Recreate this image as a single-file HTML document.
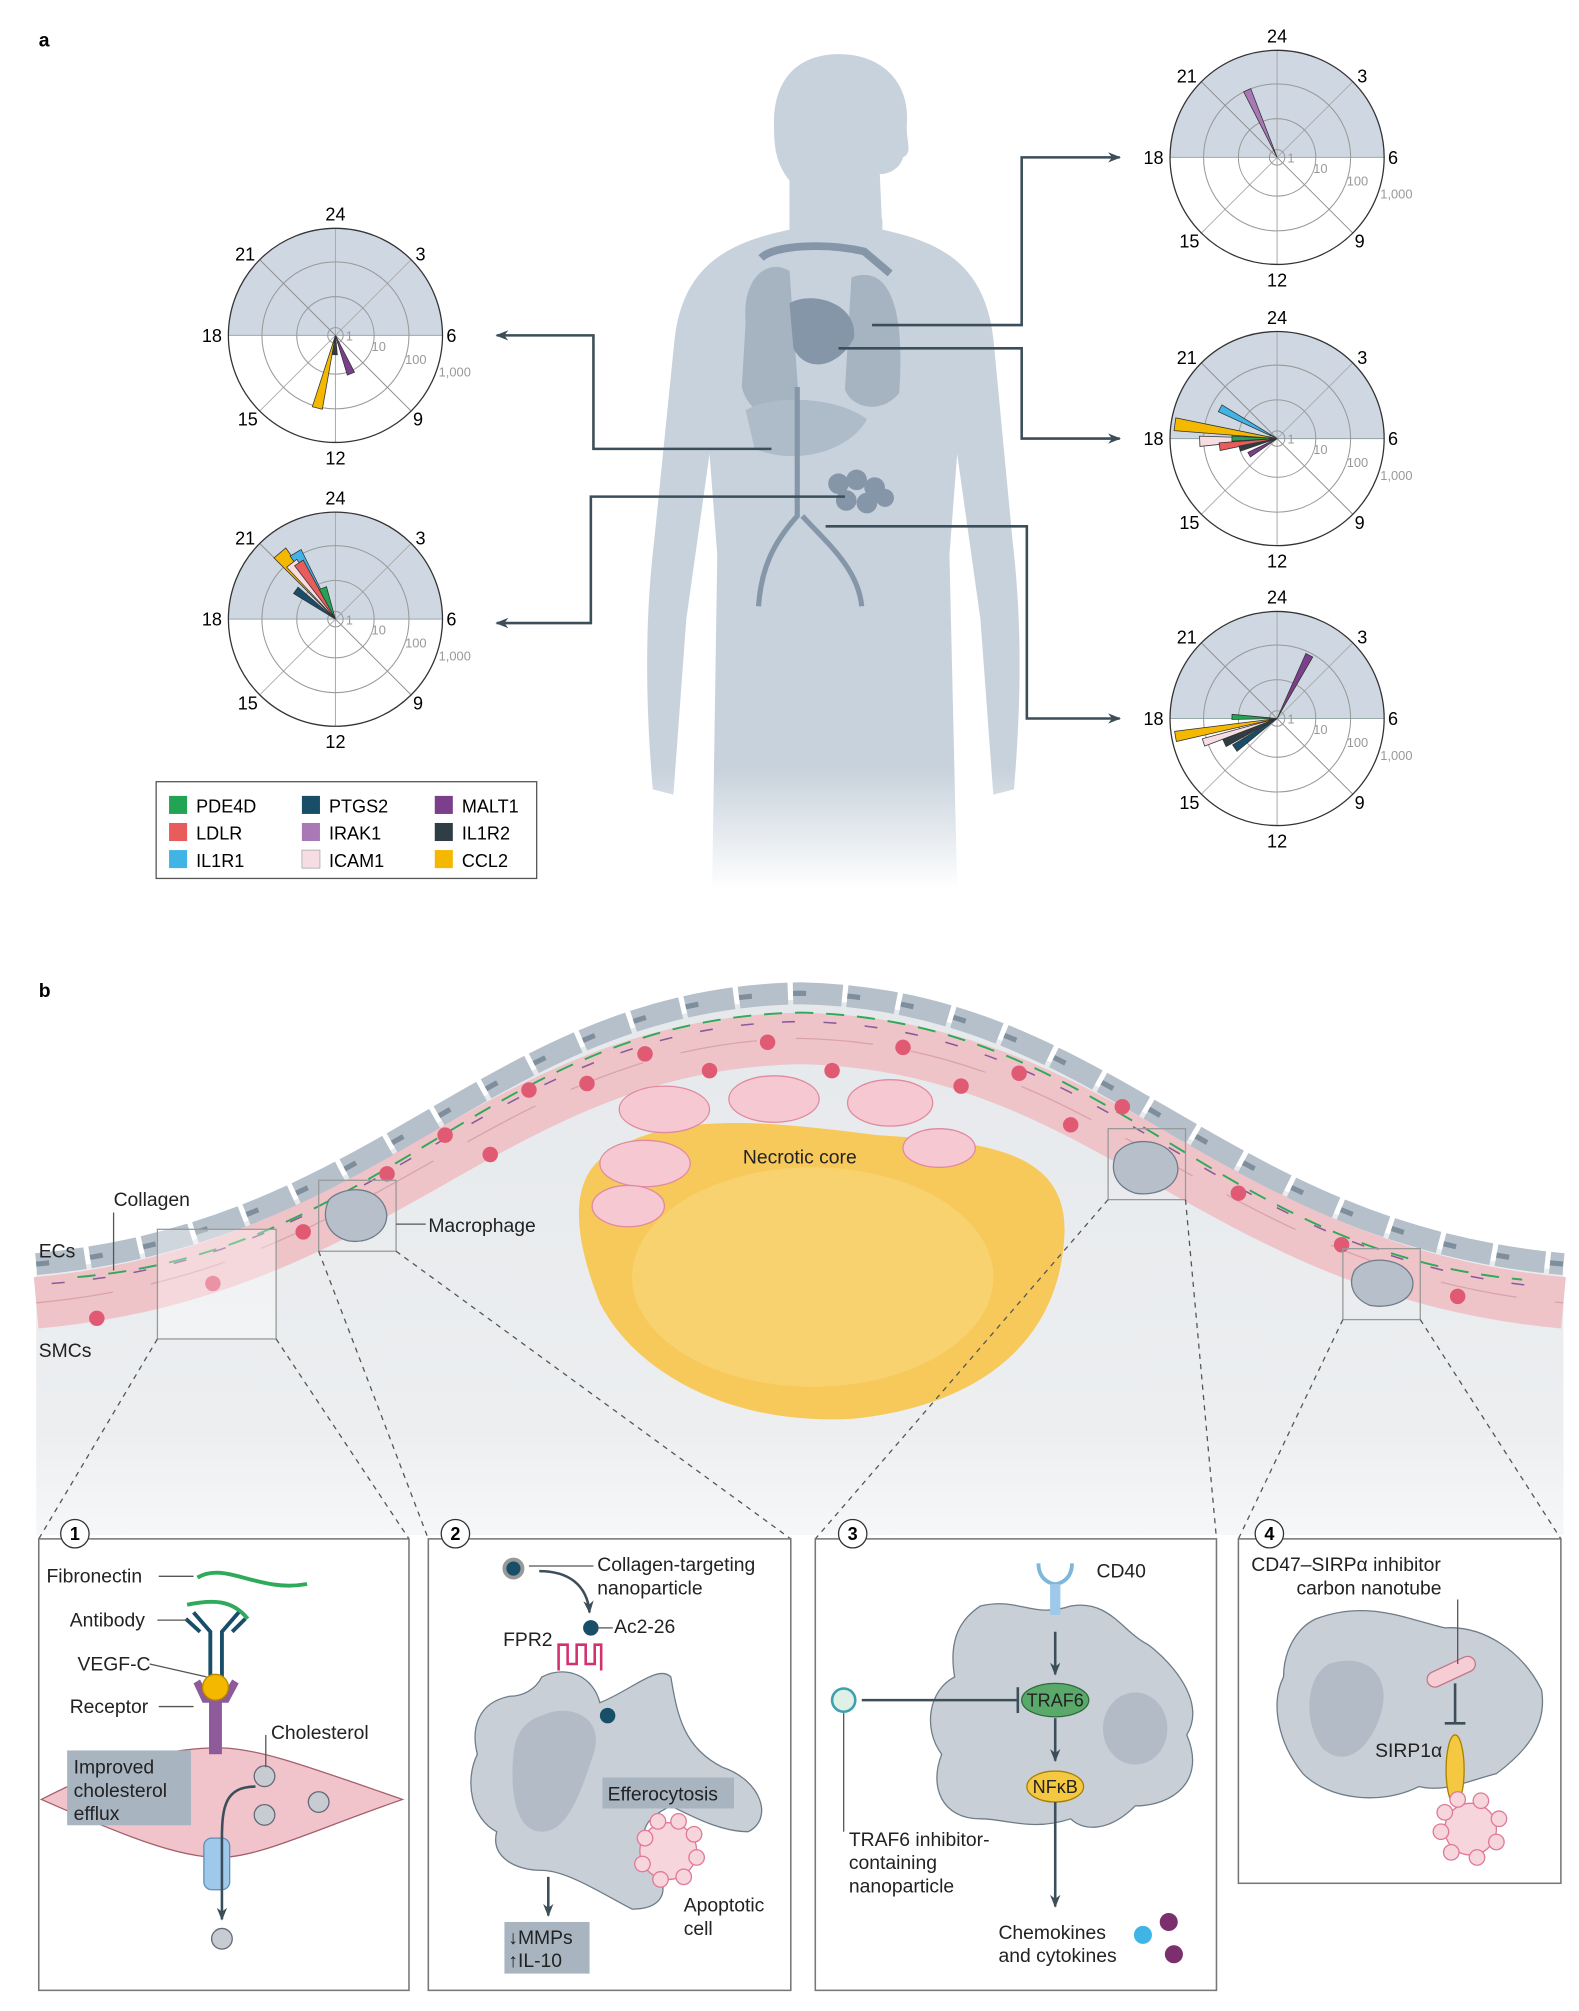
<!DOCTYPE html>
<html><head><meta charset="utf-8"><style>
html,body{margin:0;padding:0;background:#fff}
svg{display:block}
text{font-family:"Liberation Sans",sans-serif}
</style></head><body>
<svg width="1579" height="2011" viewBox="0 0 1224 1559" xmlns="http://www.w3.org/2000/svg">
<defs>
<linearGradient id="fade" x1="0" y1="0" x2="0" y2="1">
<stop offset="0" stop-color="#c8d2dc"/><stop offset="0.82" stop-color="#c8d2dc"/><stop offset="1" stop-color="#ffffff"/>
</linearGradient>
<linearGradient id="bgb" x1="0" y1="0" x2="0" y2="1">
<stop offset="0" stop-color="#e6e9ec"/><stop offset="0.8" stop-color="#eceef0"/><stop offset="1" stop-color="#f6f7f8"/>
</linearGradient>
<marker id="ah" markerWidth="10" markerHeight="8" refX="9" refY="4" orient="auto" markerUnits="userSpaceOnUse"><path d="M0,0 L10,4 L0,8 L3,4Z" fill="#3c4e5a"/></marker>
<g id="polar">
<path d="M-83,0 A83,83 0 0 1 83,0 Z" fill="#cfd8e2"/>
<line x1="-83" y1="0" x2="83" y2="0" stroke="#9aa" stroke-width="0.8"/>
<line x1="0" y1="-83" x2="0" y2="83" stroke="#aaa" stroke-width="0.8"/>
<line x1="-59" y1="-59" x2="59" y2="59" stroke="#888" stroke-width="0.7"/>
<line x1="-59" y1="59" x2="59" y2="-59" stroke="#aaa" stroke-width="0.7"/>
<circle r="57" fill="none" stroke="#999" stroke-width="0.8"/>
<circle r="30" fill="none" stroke="#999" stroke-width="0.8"/>
<circle r="6" fill="none" stroke="#999" stroke-width="0.8"/>
<circle r="83" fill="none" stroke="#333" stroke-width="1"/>
<text x="0" y="-89" font-size="14" text-anchor="middle">24</text>
<text x="0" y="100" font-size="14" text-anchor="middle">12</text>
<text x="-88" y="5" font-size="14" text-anchor="end">18</text>
<text x="86" y="5" font-size="14">6</text>
<text x="-70" y="-58" font-size="14" text-anchor="middle">21</text>
<text x="66" y="-58" font-size="14" text-anchor="middle">3</text>
<text x="-68" y="70" font-size="14" text-anchor="middle">15</text>
<text x="64" y="70" font-size="14" text-anchor="middle">9</text>
<text x="8" y="4" font-size="10" fill="#999">1</text>
<text x="28" y="12" font-size="10" fill="#999">10</text>
<text x="54" y="22" font-size="10" fill="#999">100</text>
<text x="80" y="32" font-size="10" fill="#999">1,000</text>
</g>
</defs>
<rect width="1224" height="1559" fill="#fff"/>
<text x="30" y="36" font-size="15" font-weight="bold">a</text>
<path fill="#c8d2dc" d="M600,95 C600,60 620,42 650,42 C685,42 705,65 703,95 C702,110 708,118 700,122 C698,130 690,135 682,135 L684,180 L612,180 L612,140 C600,125 600,110 600,95Z"/>
<path fill="url(#fade)" d="M612,170 L612,178 C565,188 530,205 523,262 L507,420 C500,480 500,540 506,612 L522,616 L532,480 L550,352 L556,430 L552,690 L742,690 L736,430 L742,352 L760,480 L770,616 L786,612 C792,540 792,480 785,420 L770,262 C763,205 730,188 684,178 L684,170 Z"/>
<g>
<path d="M578,250 C575,215 595,200 612,210 L620,320 C600,330 580,320 575,300Z" fill="#a6b4c2"/>
<path d="M660,215 C688,205 702,235 697,305 C682,322 660,316 655,302Z" fill="#a6b4c2"/>
<path d="M612,235 C630,225 665,235 662,262 C650,285 625,290 615,270Z" fill="#8596a9"/>
<path d="M578,318 C600,305 650,308 672,325 C660,348 620,362 585,348Z" fill="#aebbc8"/>
<path d="M590,200 C600,190 640,188 670,195 L690,212" fill="none" stroke="#8596a9" stroke-width="6"/>
<path d="M618,300 L618,400 C600,420 590,440 588,470" fill="none" stroke="#8596a9" stroke-width="4"/>
<path d="M622,400 C640,420 665,440 668,470" fill="none" stroke="#8596a9" stroke-width="4"/>
<g fill="#8596a9"><circle cx="650" cy="375" r="8"/><circle cx="664" cy="372" r="8"/><circle cx="678" cy="378" r="8"/><circle cx="656" cy="388" r="8"/><circle cx="672" cy="390" r="8"/><circle cx="686" cy="386" r="7"/></g>
</g>
<g fill="none" stroke="#3c4e5a" stroke-width="2" marker-end="url(#ah)">
<polyline points="598,348 460,348 460,260 385,260"/>
<polyline points="655,385 458,385 458,483 385,483"/>
<polyline points="676,252 792,252 792,122 868,122"/>
<polyline points="650,270 792,270 792,340 868,340"/>
<polyline points="640,408 796,408 796,557 868,557"/>
</g>
<g transform="translate(260,260)"><use href="#polar"/>
<g stroke="#333" stroke-width="0.6">
<polygon points="0,0 -4,-58 4,-58" fill="#f5b800" transform="rotate(194)"/>
<polygon points="0,0 -3,-32 3,-32" fill="#7b3f8c" transform="rotate(158)"/>
<polygon points="0,0 -2,-15 2,-15" fill="#2f3d45" transform="rotate(182)"/>
</g></g>
<g transform="translate(260,480)"><use href="#polar"/>
<g stroke="#333" stroke-width="0.6">
<polygon points="0,0 -6,-67 6,-67" fill="#f5b800" transform="rotate(-40)"/>
<polygon points="0,0 -5,-60 5,-60" fill="#3fb4e5" transform="rotate(-31)"/>
<polygon points="0,0 -5,-55 5,-55" fill="#f5dde3" transform="rotate(-38)"/>
<polygon points="0,0 -4,-52 4,-52" fill="#e85c5c" transform="rotate(-33)"/>
<polygon points="0,0 -3,-38 3,-38" fill="#184e68" transform="rotate(-54)"/>
<polygon points="0,0 -3,-26 3,-26" fill="#23a455" transform="rotate(-22)"/>
</g></g>
<g transform="translate(990,122)"><use href="#polar"/>
<g stroke="#333" stroke-width="0.6">
<polygon points="0,0 -3,-57 3,-57" fill="#a979b5" transform="rotate(-24)"/>
</g></g>
<g transform="translate(990,340)"><use href="#polar"/>
<g stroke="#333" stroke-width="0.6">
<polygon points="0,0 -5,-80 5,-80" fill="#f5b800" transform="rotate(-82)"/>
<polygon points="0,0 -4,-60 4,-60" fill="#f5dde3" transform="rotate(-92)"/>
<polygon points="0,0 -3,-50 3,-50" fill="#3fb4e5" transform="rotate(-62)"/>
<polygon points="0,0 -3,-45 3,-45" fill="#e85c5c" transform="rotate(-98)"/>
<polygon points="0,0 -2,-35 2,-35" fill="#23a455" transform="rotate(-90)"/>
<polygon points="0,0 -2,-30 2,-30" fill="#2f3d45" transform="rotate(-105)"/>
<polygon points="0,0 -2,-25 2,-25" fill="#7b3f8c" transform="rotate(-120)"/>
</g></g>
<g transform="translate(990,557)"><use href="#polar"/>
<g stroke="#333" stroke-width="0.6">
<polygon points="0,0 -3,-55 3,-55" fill="#7b3f8c" transform="rotate(27)"/>
<polygon points="0,0 -4,-80 4,-80" fill="#f5b800" transform="rotate(-100)"/>
<polygon points="0,0 -3,-60 3,-60" fill="#f5dde3" transform="rotate(-108)"/>
<polygon points="0,0 -2,-35 2,-35" fill="#23a455" transform="rotate(-88)"/>
<polygon points="0,0 -3,-45 3,-45" fill="#2f3d45" transform="rotate(-115)"/>
<polygon points="0,0 -3,-40 3,-40" fill="#184e68" transform="rotate(-125)"/>
</g></g>
<rect x="121" y="606" width="295" height="75" fill="#fff" stroke="#555" stroke-width="1"/>
<g font-size="14">
<rect x="131" y="617" width="14" height="14" fill="#23a455"/><text x="152" y="630">PDE4D</text>
<rect x="131" y="638" width="14" height="14" fill="#e85c5c"/><text x="152" y="651">LDLR</text>
<rect x="131" y="659" width="14" height="14" fill="#3fb4e5"/><text x="152" y="672">IL1R1</text>
<rect x="234" y="617" width="14" height="14" fill="#184e68"/><text x="255" y="630">PTGS2</text>
<rect x="234" y="638" width="14" height="14" fill="#a979b5"/><text x="255" y="651">IRAK1</text>
<rect x="234" y="659" width="14" height="14" fill="#f5dde3" stroke="#999" stroke-width="0.5"/><text x="255" y="672">ICAM1</text>
<rect x="337" y="617" width="14" height="14" fill="#7b3f8c"/><text x="358" y="630">MALT1</text>
<rect x="337" y="638" width="14" height="14" fill="#2f3d45"/><text x="358" y="651">IL1R2</text>
<rect x="337" y="659" width="14" height="14" fill="#f5b800"/><text x="358" y="672">CCL2</text>
</g>

<text x="30" y="773" font-size="15" font-weight="bold">b</text>
<path d="M28,985 C300,960 380,780 620,775 C860,780 940,960 1212,985 L1212,1190 L28,1190 Z" fill="url(#bgb)"/>
<path d="M28,1010 C300,985 380,810 620,805 C860,810 940,985 1212,1010" fill="none" stroke="#efc4c9" stroke-width="40"/>
<path d="M28,1010 C300,985 380,810 620,805 C860,810 940,985 1212,1010" fill="none" stroke="#d9a3aa" stroke-width="1" stroke-dasharray="60 30"/>
<path d="M28,980 C300,955 380,775 620,770 C860,775 940,955 1212,980" fill="none" stroke="#b5c0cb" stroke-width="17" stroke-dasharray="38 4"/>
<path d="M28,980 C300,955 380,775 620,770 C860,775 940,955 1212,980" fill="none" stroke="#7f8e9c" stroke-width="4" stroke-dasharray="10 32"/>
<path d="M60,990 C300,970 380,790 620,785 C860,790 940,970 1180,992" fill="none" stroke="#2eaa5a" stroke-width="1.5" stroke-dasharray="14 10"/>
<path d="M40,995 C300,975 380,795 620,792 C860,795 940,975 1200,998" fill="none" stroke="#8a5a9a" stroke-width="1.2" stroke-dasharray="10 22"/>
<g fill="#e05a74">
<circle cx="75" cy="1022" r="6"/><circle cx="165" cy="995" r="6"/><circle cx="235" cy="955" r="6"/><circle cx="300" cy="910" r="6"/><circle cx="345" cy="880" r="6"/><circle cx="380" cy="895" r="6"/><circle cx="410" cy="845" r="6"/><circle cx="455" cy="840" r="6"/><circle cx="500" cy="817" r="6"/><circle cx="550" cy="830" r="6"/><circle cx="595" cy="808" r="6"/><circle cx="645" cy="830" r="6"/><circle cx="700" cy="812" r="6"/><circle cx="745" cy="842" r="6"/><circle cx="790" cy="832" r="6"/><circle cx="830" cy="872" r="6"/><circle cx="870" cy="858" r="6"/><circle cx="960" cy="925" r="6"/><circle cx="1040" cy="965" r="6"/><circle cx="1130" cy="1005" r="6"/>
</g>
<path d="M470,895 C520,860 600,870 680,880 C760,885 830,890 825,960 C820,1040 760,1090 660,1100 C560,1105 490,1060 465,1010 C445,960 440,915 470,895Z" fill="#f7c95a"/>
<ellipse cx="630" cy="990" rx="140" ry="85" fill="#f9d679" opacity="0.7"/>
<text x="620" y="902" font-size="15" text-anchor="middle" fill="#222">Necrotic core</text>
<g fill="#f6c9d2" stroke="#e08aa0" stroke-width="1">
<ellipse cx="515" cy="860" rx="35" ry="18"/><ellipse cx="600" cy="852" rx="35" ry="18"/><ellipse cx="690" cy="855" rx="33" ry="18"/><ellipse cx="500" cy="902" rx="35" ry="18"/><ellipse cx="487" cy="935" rx="28" ry="16"/><ellipse cx="728" cy="890" rx="28" ry="15"/>
</g>
<g fill="#b7c0ca" stroke="#6f7c88" stroke-width="1">
<path d="M255,930 C265,920 290,918 298,935 C305,950 290,965 270,962 C255,958 248,945 255,930Z"/>
<path d="M865,895 C875,880 905,882 912,900 C918,918 898,928 880,925 C865,920 860,908 865,895Z"/>
<path d="M1050,985 C1060,972 1090,975 1095,992 C1098,1008 1078,1015 1062,1012 C1048,1006 1045,995 1050,985Z"/>
</g>
<g fill="none" stroke="#999" stroke-width="1">
<rect x="122" y="953" width="92" height="85" fill="#fff" fill-opacity="0.35"/>
<rect x="247" y="915" width="60" height="55"/>
<rect x="859" y="875" width="60" height="55"/>
<rect x="1041" y="968" width="60" height="55"/>
</g>
<g font-size="15" fill="#222">
<text x="88" y="935">Collagen</text><line x1="88" y1="940" x2="88" y2="985" stroke="#555"/>
<text x="30" y="975">ECs</text>
<text x="30" y="1052">SMCs</text>
<text x="332" y="955">Macrophage</text><line x1="307" y1="949" x2="330" y2="949" stroke="#555"/>
</g>
<g stroke="#555" stroke-width="1" stroke-dasharray="4 4" fill="none">
<line x1="122" y1="1038" x2="30" y2="1193"/><line x1="214" y1="1038" x2="317" y2="1193"/>
<line x1="247" y1="970" x2="332" y2="1193"/><line x1="307" y1="970" x2="613" y2="1193"/>
<line x1="859" y1="930" x2="632" y2="1193"/><line x1="919" y1="930" x2="943" y2="1193"/>
<line x1="1041" y1="1023" x2="960" y2="1193"/><line x1="1101" y1="1023" x2="1210" y2="1193"/>
</g>
<g fill="#fff" stroke="#777" stroke-width="1.2">
<rect x="30" y="1193" width="287" height="350"/>
<rect x="332" y="1193" width="281" height="350"/>
<rect x="632" y="1193" width="311" height="350"/>
<rect x="960" y="1193" width="250" height="267"/>
</g>
<g font-size="14" font-weight="bold" text-anchor="middle">
<circle cx="58" cy="1189" r="11" fill="#fff" stroke="#333"/><text x="58" y="1194">1</text>
<circle cx="353" cy="1189" r="11" fill="#fff" stroke="#333"/><text x="353" y="1194">2</text>
<circle cx="661" cy="1189" r="11" fill="#fff" stroke="#333"/><text x="661" y="1194">3</text>
<circle cx="984" cy="1189" r="11" fill="#fff" stroke="#333"/><text x="984" y="1194">4</text>
</g>
<path d="M32,1395 C100,1360 140,1355 170,1355 C200,1355 240,1370 312,1395 C240,1420 200,1440 170,1440 C140,1440 100,1425 32,1395Z" fill="#f0c4ca" stroke="#a45f6b"/>
<path d="M153,1223 C175,1210 200,1235 238,1228" fill="none" stroke="#2eaa5a" stroke-width="3"/>
<path d="M145,1244 C165,1240 180,1240 192,1255" fill="none" stroke="#2eaa5a" stroke-width="3"/>
<g stroke="#184e68" stroke-width="3" fill="none"><path d="M163,1300 L163,1265 L150,1250"/><path d="M172,1300 L172,1265 L185,1250"/><line x1="144" y1="1255" x2="155" y2="1265"/><line x1="190" y1="1255" x2="180" y2="1265"/></g>
<path d="M150,1305 L157,1320 L162,1320 L162,1360 L172,1360 L172,1320 L177,1320 L185,1305 L180,1302 L172,1315 L162,1315 L155,1302Z" fill="#8f5a9a"/>
<circle cx="167" cy="1308" r="10" fill="#f5b800" stroke="#b88a00"/>
<rect x="158" y="1425" width="20" height="40" rx="6" fill="#9fc9ea" stroke="#5d8fb5"/>
<path d="M198,1385 C175,1385 172,1400 172,1425 L172,1488" fill="none" stroke="#3c4e5a" stroke-width="2" marker-end="url(#ah)"/>
<g fill="#c6ccd2" stroke="#667"><circle cx="205" cy="1377" r="8"/><circle cx="205" cy="1407" r="8"/><circle cx="247" cy="1397" r="8"/><circle cx="172" cy="1503" r="8"/></g>
<rect x="52" y="1357" width="96" height="58" fill="#a8b4c0"/>
<g font-size="15" fill="#222">
<text x="57" y="1375">Improved</text><text x="57" y="1393">cholesterol</text><text x="57" y="1411">efflux</text>
<text x="36" y="1227">Fibronectin</text><line x1="123" y1="1222" x2="150" y2="1222" stroke="#555"/>
<text x="54" y="1261">Antibody</text><line x1="122" y1="1256" x2="145" y2="1256" stroke="#555"/>
<text x="60" y="1295">VEGF-C</text><line x1="116" y1="1290" x2="160" y2="1300" stroke="#555"/>
<text x="54" y="1328">Receptor</text><line x1="123" y1="1323" x2="150" y2="1323" stroke="#555"/>
<text x="210" y="1348">Cholesterol</text><line x1="206" y1="1345" x2="206" y2="1370" stroke="#555"/>
</g>
<path d="M420,1300 C440,1290 460,1300 465,1320 C490,1310 510,1290 520,1300 C525,1330 530,1355 560,1370 C590,1380 600,1410 580,1420 C560,1420 540,1410 520,1400 C500,1410 490,1420 510,1450 C520,1470 510,1480 490,1480 C470,1470 440,1450 420,1450 C400,1450 380,1440 385,1420 C365,1410 360,1380 370,1360 C365,1340 370,1320 395,1315 C405,1315 415,1310 420,1300Z" fill="#c9cfd6" stroke="#6f7c88"/>
<path d="M420,1330 C440,1320 470,1330 460,1360 C450,1390 440,1420 420,1420 C400,1420 395,1390 398,1360 C400,1340 410,1333 420,1330Z" fill="#b3bcc6"/>
<circle cx="471" cy="1330" r="6" fill="#184e68"/>
<path d="M433,1295 L433,1275 L440,1275 L440,1290 L447,1290 L447,1275 L454,1275 L454,1290 L461,1290 L461,1275 L466,1275 L466,1295" fill="none" stroke="#d4306f" stroke-width="2"/>
<circle cx="458" cy="1262" r="6" fill="#184e68"/>
<circle cx="398" cy="1216" r="7" fill="#184e68" stroke="#999" stroke-width="3"/>
<path d="M418,1218 C440,1218 455,1228 457,1250" fill="none" stroke="#3c4e5a" stroke-width="2" marker-end="url(#ah)"/>
<g fill="#f6d5dd" stroke="#e07896"><circle cx="518" cy="1435" r="22"/><circle cx="500" cy="1425" r="6"/><circle cx="510" cy="1412" r="6"/><circle cx="526" cy="1412" r="6"/><circle cx="538" cy="1422" r="6"/><circle cx="540" cy="1440" r="6"/><circle cx="530" cy="1455" r="6"/><circle cx="512" cy="1457" r="6"/><circle cx="498" cy="1445" r="6"/></g>
<rect x="467" y="1378" width="102" height="24" fill="#a8b4c0"/>
<line x1="425" y1="1455" x2="425" y2="1485" stroke="#3c4e5a" stroke-width="2" marker-end="url(#ah)"/>
<rect x="391" y="1490" width="66" height="40" fill="#a8b4c0"/>
<g font-size="15" fill="#222">
<text x="471" y="1396">Efferocytosis</text>
<text x="394" y="1507">↓MMPs</text><text x="394" y="1525">↑IL-10</text>
<text x="463" y="1218">Collagen-targeting</text><text x="463" y="1236">nanoparticle</text>
<line x1="410" y1="1214" x2="460" y2="1214" stroke="#555"/>
<text x="476" y="1266">Ac2-26</text><line x1="464" y1="1262" x2="475" y2="1262" stroke="#555"/>
<text x="390" y="1276">FPR2</text>
<text x="530" y="1482">Apoptotic</text><text x="530" y="1500">cell</text>
</g>
<path d="M760,1245 C790,1238 800,1255 830,1245 C860,1240 870,1265 890,1275 C910,1290 935,1320 920,1345 C935,1380 910,1400 880,1400 C860,1420 840,1420 830,1410 C800,1420 780,1410 760,1410 C730,1410 720,1385 730,1360 C715,1340 720,1310 740,1300 C735,1270 745,1255 760,1245Z" fill="#c9cfd6" stroke="#6f7c88"/>
<ellipse cx="880" cy="1340" rx="25" ry="28" fill="#b3bcc6"/>
<path d="M805,1212 C805,1225 815,1228 818,1228 C821,1228 831,1225 831,1212" fill="none" stroke="#7eb7db" stroke-width="3"/>
<rect x="814" y="1228" width="8" height="24" fill="#9fc9ea"/>
<line x1="818" y1="1265" x2="818" y2="1298" stroke="#3c4e5a" stroke-width="2" marker-end="url(#ah)"/>
<line x1="668" y1="1318" x2="788" y2="1318" stroke="#3c4e5a" stroke-width="2"/><line x1="789" y1="1308" x2="789" y2="1328" stroke="#3c4e5a" stroke-width="2"/>
<ellipse cx="818" cy="1318" rx="26" ry="13" fill="#5aa96a" stroke="#2d6b3a"/>
<line x1="818" y1="1332" x2="818" y2="1365" stroke="#3c4e5a" stroke-width="2" marker-end="url(#ah)"/>
<ellipse cx="818" cy="1385" rx="22" ry="12" fill="#f5c842" stroke="#a88000"/>
<line x1="818" y1="1397" x2="818" y2="1478" stroke="#3c4e5a" stroke-width="2" marker-end="url(#ah)"/>
<circle cx="654" cy="1318" r="9" fill="#dff0e6" stroke="#3fa0b0" stroke-width="2"/>
<line x1="654" y1="1328" x2="654" y2="1420" stroke="#555"/>
<circle cx="886" cy="1500" r="7" fill="#3fb4e5"/><circle cx="906" cy="1490" r="7" fill="#7b2f6c"/><circle cx="910" cy="1515" r="7" fill="#7b2f6c"/>
<g font-size="15" fill="#222">
<text x="818" y="1323" font-size="14" text-anchor="middle">TRAF6</text>
<text x="818" y="1390" font-size="14" text-anchor="middle">NFκB</text>
<text x="850" y="1223">CD40</text>
<text x="658" y="1431">TRAF6 inhibitor-</text><text x="658" y="1449">containing</text><text x="658" y="1467">nanoparticle</text>
<text x="774" y="1503">Chemokines</text><text x="774" y="1521">and cytokines</text>
</g>
<path d="M1020,1255 C1060,1240 1090,1255 1120,1262 C1150,1260 1180,1280 1195,1310 C1200,1340 1180,1360 1160,1375 C1140,1380 1120,1390 1100,1385 C1070,1400 1030,1395 1010,1375 C990,1350 985,1320 995,1300 C995,1280 1005,1262 1020,1255Z" fill="#c9cfd6" stroke="#6f7c88"/>
<path d="M1030,1290 C1060,1280 1080,1300 1070,1330 C1060,1360 1040,1370 1025,1355 C1010,1335 1012,1300 1030,1290Z" fill="#b3bcc6"/>
<rect x="1105" y="1290" width="40" height="12" rx="6" fill="#f6cdd4" stroke="#c2788a" transform="rotate(-25 1125 1296)"/>
<line x1="1128" y1="1305" x2="1128" y2="1335" stroke="#3c4e5a" stroke-width="2"/><line x1="1120" y1="1336" x2="1136" y2="1336" stroke="#3c4e5a" stroke-width="2"/>
<ellipse cx="1128" cy="1372" rx="7" ry="27" fill="#f5c842" stroke="#a88000"/>
<g fill="#f6d5dd" stroke="#e07896"><circle cx="1140" cy="1418" r="20"/><circle cx="1120" cy="1405" r="6"/><circle cx="1130" cy="1395" r="6"/><circle cx="1148" cy="1396" r="6"/><circle cx="1162" cy="1410" r="6"/><circle cx="1160" cy="1428" r="6"/><circle cx="1145" cy="1440" r="6"/><circle cx="1125" cy="1436" r="6"/><circle cx="1117" cy="1420" r="6"/></g>
<line x1="1130" y1="1240" x2="1130" y2="1290" stroke="#555"/>
<g font-size="15" fill="#222">
<text x="970" y="1218">CD47–SIRPα inhibitor</text><text x="1005" y="1236">carbon nanotube</text>
<text x="1066" y="1362">SIRP1α</text>
</g>
</svg>
</body></html>
